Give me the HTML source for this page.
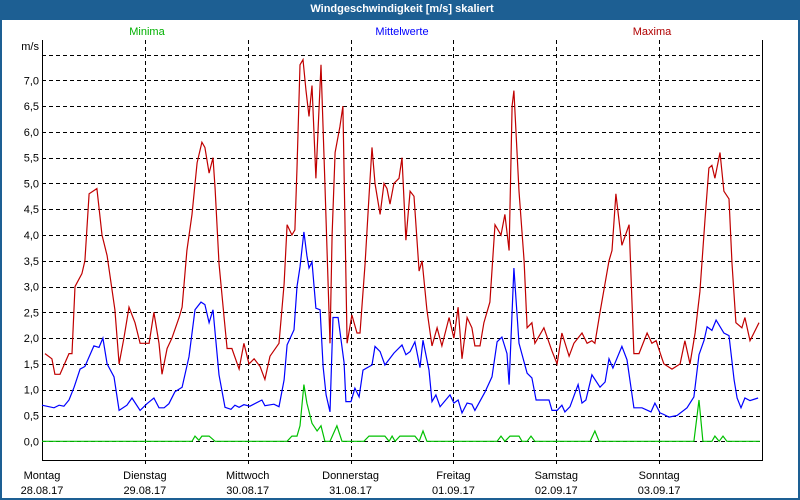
<!DOCTYPE html>
<html><head><meta charset="utf-8"><style>
html,body{margin:0;padding:0;background:#fff;}
#wrap{position:relative;width:800px;height:500px;overflow:hidden;background:#fff;box-sizing:border-box;border:2px solid #1d5f93;border-top:none;}
#title{position:absolute;left:0;top:0;width:800px;height:20px;background:#1d5f93;color:#fff;font:bold 11px "Liberation Sans",sans-serif;text-align:center;line-height:19px;}
svg{position:absolute;left:0;top:0;}
text{font-family:"Liberation Sans",sans-serif;font-size:11px;}
</style></head><body>
<div id="wrap">
<div id="title">Windgeschwindigkeit [m/s] skaliert</div>
<svg id="chart" width="800" height="500"></svg>
</div>
<script>
const dayNames = ["Montag","Dienstag","Mittwoch","Donnerstag","Freitag","Samstag","Sonntag"];
const dayDates = ["28.08.17","29.08.17","30.08.17","31.08.17","01.09.17","02.09.17","03.09.17"];
const yTicks = [0,0.5,1,1.5,2,2.5,3,3.5,4,4.5,5,5.5,6,6.5,7];
const yTickLabels = ["0,0","0,5","1,0","1,5","2,0","2,5","3,0","3,5","4,0","4,5","5,0","5,5","6,0","6,5","7,0"];
const maxHours = [0.7,2.3,3.0,4.2,6.3,7.0,7.7,9.3,10.0,11.0,12.8,14.0,15.2,17.0,18.0,19.1,20.3,21.7,22.9,25.0,26.1,27.3,28.0,29.2,30.3,32.0,32.7,33.8,35.0,36.2,37.3,38.0,39.0,39.9,40.4,41.3,42.5,43.2,44.3,46.0,47.1,48.3,49.5,50.9,52.0,53.2,55.3,56.5,57.2,58.3,59.0,59.5,60.2,60.9,61.6,62.3,63.0,63.9,65.1,66.0,67.2,67.7,68.4,69.5,70.2,71.2,72.3,73.5,74.2,75.4,76.3,77.0,77.7,78.9,79.8,80.5,81.2,82.1,83.3,84.0,84.9,85.9,86.8,88.0,88.7,89.8,91.0,92.2,93.3,95.0,96.1,97.1,98.0,99.2,100.3,101.0,102.2,103.1,104.5,105.7,107.1,108.0,109.0,109.7,110.1,111.3,112.5,113.2,114.3,115.0,117.1,119.0,120.2,121.3,123.0,124.1,126.0,127.2,128.3,129.0,130.2,132.3,133.0,133.9,135.3,137.0,138.1,139.3,141.2,142.3,143.3,144.7,145.1,147.0,148.9,150.0,151.2,152.4,153.5,154.7,155.6,156.3,157.0,158.2,159.1,160.3,161.0,161.9,163.3,164.0,165.2,166.1,167.3];
const maxValues = [1.7,1.6,1.3,1.3,1.7,1.7,3.0,3.25,3.5,4.8,4.9,4.0,3.6,2.55,1.5,2.0,2.6,2.3,1.9,1.9,2.5,1.9,1.3,1.8,2.0,2.4,2.6,3.7,4.4,5.4,5.8,5.7,5.2,5.5,4.9,3.45,2.4,1.8,1.8,1.4,1.9,1.5,1.6,1.45,1.2,1.65,1.9,3.05,4.2,4.0,4.1,5.3,7.3,7.4,6.8,6.3,6.9,5.1,7.3,5.0,1.9,4.0,5.6,6.1,6.5,1.9,2.45,2.1,2.1,3.45,4.75,5.7,5.0,4.4,5.0,4.9,4.6,5.0,5.1,5.5,3.9,4.85,4.75,3.3,3.5,2.55,1.85,2.2,1.85,2.4,2.0,2.6,1.6,2.4,2.2,1.85,1.85,2.3,2.7,4.2,4.0,4.4,3.7,6.5,6.8,4.85,3.5,2.2,2.3,1.9,2.2,1.75,1.5,2.1,1.65,1.9,2.1,1.9,1.95,1.9,2.5,3.5,3.7,4.8,3.8,4.2,1.7,1.7,2.1,1.9,1.95,1.6,1.5,1.4,1.5,1.95,1.5,2.1,2.9,4.3,5.3,5.35,5.1,5.6,4.85,4.7,3.45,2.3,2.2,2.4,1.95,2.1,2.3];
const meanHours = [0,2.8,4.0,5.1,6.3,7.5,8.9,10.0,12.1,13.3,14.2,15.2,16.8,18.0,19.8,21.0,22.9,24.5,26.1,27.3,28.5,29.6,31.0,32.7,34.3,35.7,37.1,38.0,39.0,39.9,41.3,42.7,44.1,45.0,46.0,47.1,48.5,51.3,52.0,54.1,55.3,56.5,57.2,58.8,59.5,60.2,61.1,61.8,62.3,63.0,63.9,64.9,65.6,66.3,67.2,67.9,69.1,70.5,70.9,72.1,73.0,74.0,74.9,77.0,77.7,78.9,80.0,82.1,84.0,84.9,85.9,87.0,88.2,88.9,90.3,91.0,91.9,92.9,95.2,96.1,97.1,98.0,99.2,100.3,101.0,103.4,105.0,106.2,107.3,108.5,109.0,110.1,111.3,113.2,114.3,115.3,118.3,119.0,120.2,121.3,122.0,123.2,125.1,126.0,126.9,128.3,130.2,131.4,132.3,133.2,135.3,136.5,138.1,140.0,142.1,143.0,144.2,145.1,146.3,148.2,150.5,152.1,153.3,154.5,155.2,156.3,157.3,159.1,160.3,161.5,162.2,163.1,164.0,165.2,167.1];
const meanValues = [0.7,0.65,0.7,0.68,0.8,1.05,1.4,1.45,1.85,1.82,2.0,1.5,1.25,0.6,0.7,0.84,0.6,0.73,0.84,0.65,0.65,0.73,0.96,1.05,1.64,2.55,2.7,2.65,2.3,2.55,1.29,0.66,0.62,0.7,0.66,0.71,0.68,0.8,0.69,0.72,0.67,1.19,1.87,2.16,3.0,3.38,4.06,3.6,3.36,3.48,2.58,2.55,1.45,0.9,0.57,2.4,2.4,1.52,0.77,0.77,1.03,0.86,1.38,1.48,1.84,1.74,1.48,1.71,1.87,1.68,1.74,1.93,1.43,1.96,1.38,0.77,0.9,0.67,0.9,0.74,0.8,0.55,0.74,0.72,0.6,0.96,1.25,1.93,2.02,1.7,1.1,3.36,1.9,1.32,1.23,0.8,0.8,0.6,0.6,0.7,0.57,0.67,1.1,0.74,0.8,1.29,1.05,1.15,1.6,1.42,1.84,1.58,0.65,0.65,0.57,0.74,0.55,0.52,0.47,0.5,0.65,0.86,1.68,1.96,2.22,2.15,2.35,2.1,2.05,1.19,0.84,0.65,0.84,0.79,0.84];
const minHours = [0,35.0,35.7,36.6,37.3,39.0,40.4,57.2,58.3,59.5,60.2,61.1,61.8,63.0,64.2,65.1,66.0,67.2,68.8,70.0,75.1,76.3,80.0,81.0,81.7,82.4,83.5,87.0,88.0,88.9,89.8,106.2,107.1,108.0,109.2,111.3,112.0,113.2,114.1,115.0,127.9,129.0,130.0,152.1,153.3,154.2,156.3,157.0,158.0,158.9,159.8,167.5];
const minValues = [0,0,0.1,0.02,0.1,0.1,0,0,0.1,0.1,0.3,1.1,0.74,0.35,0.2,0.3,0,0,0.3,0,0,0.1,0.1,0,0.1,0,0.1,0.1,0,0.2,0,0,0.1,0,0.1,0.1,0,0,0.1,0,0,0.2,0,0,0.8,0,0,0.1,0,0.1,0,0];

const NS = "http://www.w3.org/2000/svg";
const svg = document.getElementById("chart");
const L = 40, R = 760, T = 40, B = 460;
const y0 = 441.3, pxPerUnit = 51.57;
function xScale(h){ return L + h * (R - L) / 168; }
function yScale(v){ return y0 - v * pxPerUnit; }
function mk(tag, attrs){ const e = document.createElementNS(NS, tag); for (const k in attrs) e.setAttribute(k, attrs[k]); svg.appendChild(e); return e; }

// horizontal grid
for (let v = 0; v <= 7.5; v += 0.5) {
  const y = Math.round(yScale(v)) + 0.5;
  const g = mk("line", {x1: L, x2: R, y1: y, y2: y, stroke: "#000", "stroke-width": 1, "stroke-dasharray": "4,3"});
  
  
}
// vertical grid
for (let d = 1; d < 7; d++) {
  const x = Math.round(xScale(d * 24)) + 0.5;
  const g = mk("line", {x1: x, x2: x, y1: T, y2: B + 5, stroke: "#000", "stroke-width": 1, "stroke-dasharray": "4,3"});
  
  
}
// axes frame
const ax = mk("path", {d: `M${L+0.5},${T} V${B+0.5} H${R+0.5} V${T}`, fill: "none", stroke: "#000", "stroke-width": 1});



// y tick labels
yTicks.forEach((v, i) => {
  const t = mk("text", {x: 37, y: yScale(v) + 4, "text-anchor": "end", fill: "#000"});
  t.textContent = yTickLabels[i];
  
  
});
const unit = mk("text", {x: 37, y: 50, "text-anchor": "end", fill: "#000"});
unit.textContent = "m/s";



// x labels
dayNames.forEach((n, i) => {
  const x = xScale(i * 24);
  const t1 = mk("text", {x: x, y: 479, "text-anchor": "middle", fill: "#000"});
  t1.textContent = n;
  
  
  const t2 = mk("text", {x: x, y: 494, "text-anchor": "middle", fill: "#000"});
  t2.textContent = dayDates[i];
  
  
});

// legend
const legMin = mk("text", {x: 145, y: 35, "text-anchor": "middle", fill: "#00b000"});
legMin.textContent = "Minima";


const legMean = mk("text", {x: 400, y: 35, "text-anchor": "middle", fill: "#0000ff"});
legMean.textContent = "Mittelwerte";


const legMax = mk("text", {x: 650, y: 35, "text-anchor": "middle", fill: "#b00000"});
legMax.textContent = "Maxima";



function series(hours, vals, color, name){
  const pts = hours.map((h, i) => xScale(h).toFixed(1) + "," + yScale(vals[i]).toFixed(1)).join(" ");
  const p = mk("polyline", {points: pts, fill: "none", stroke: color, "stroke-width": 1.2, "stroke-linejoin": "miter"});
  
  
}
series(maxHours, maxValues, "#c00000", "maxima-line");
series(meanHours, meanValues, "#0000ff", "mittelwerte-line");
series(minHours, minValues, "#00c000", "minima-line");
</script>
</body></html>
